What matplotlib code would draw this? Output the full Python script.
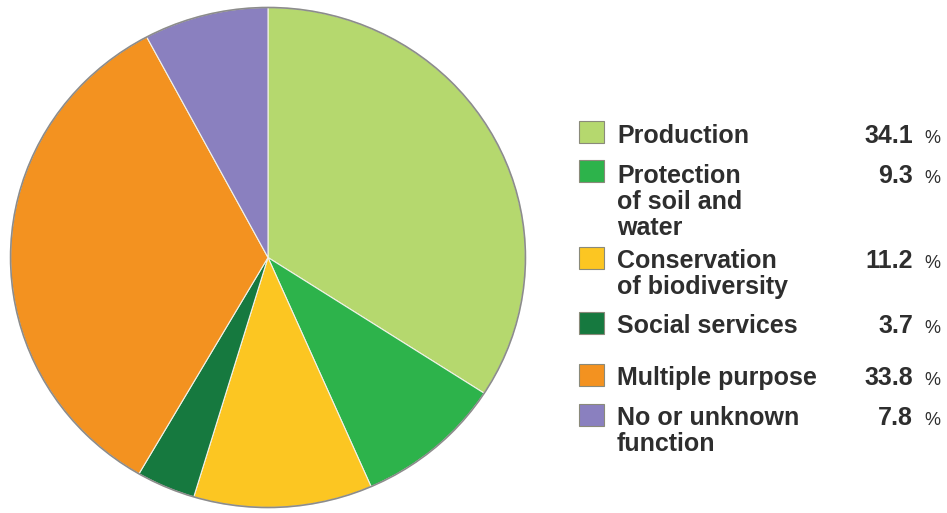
import matplotlib.pyplot as plt
from matplotlib.patches import Rectangle, Ellipse

plt.rcParams['font.family'] = ['Liberation Sans', 'DejaVu Sans']

labels = ["Production", "Protection\nof soil and\nwater", "Conservation\nof biodiversity",
          "Social services", "Multiple purpose", "No or unknown\nfunction"]
shares = [34.1, 9.3, 11.2, 3.7, 33.8, 7.8]
colors = ["#b5d86e", "#2db34b", "#fcc622", "#16793f", "#f39220", "#8a80bf"]

W, H = 947, 513
fig = plt.figure(figsize=(W / 100, H / 100), dpi=100)

def fx(x):
    return x / W

def fy(y):
    return 1 - y / H

# pie, slightly wider than tall
ax = fig.add_axes([fx(8), fy(510), 520 / W, 505 / H])
ax.pie(shares, colors=colors, startangle=90, counterclock=False, radius=1,
       wedgeprops=dict(edgecolor="#f2f2e8", linewidth=0.8))
ax.add_patch(Ellipse((0, 0), 2, 2, fill=False, edgecolor="#8c8c8c", linewidth=1.2))
ax.set_aspect("auto")
ax.set_xlim(-1.01, 1.01)
ax.set_ylim(-1.01, 1.01)
ax.axis("off")

# legend rows: top of square and baseline of first text line (pixels)
box_top = [121, 160, 247, 312, 364, 404]
baselines = [143, 183, 268, 333, 385, 425]
line_step = 26

for lab, val, col, bt, bl in zip(labels, shares, colors, box_top, baselines):
    fig.add_artist(Rectangle((fx(579), fy(bt + 22)), 25 / W, 22 / H,
                             facecolor=col, edgecolor="#8a8a7a", linewidth=0.8,
                             transform=fig.transFigure))
    for i, line in enumerate(lab.split("\n")):
        fig.text(fx(617), fy(bl + i * line_step), line, fontsize=18, fontweight="bold",
                 color="#2e2e2e", va="baseline", ha="left")
    fig.text(fx(913), fy(bl), f"{val:.1f}", fontsize=18, fontweight="bold",
             color="#2e2e2e", va="baseline", ha="right")
    fig.text(fx(932), fy(bl), "%", fontsize=13, color="#2e2e2e",
             va="baseline", ha="center")

fig.savefig("out.png", dpi=100, facecolor="white")
